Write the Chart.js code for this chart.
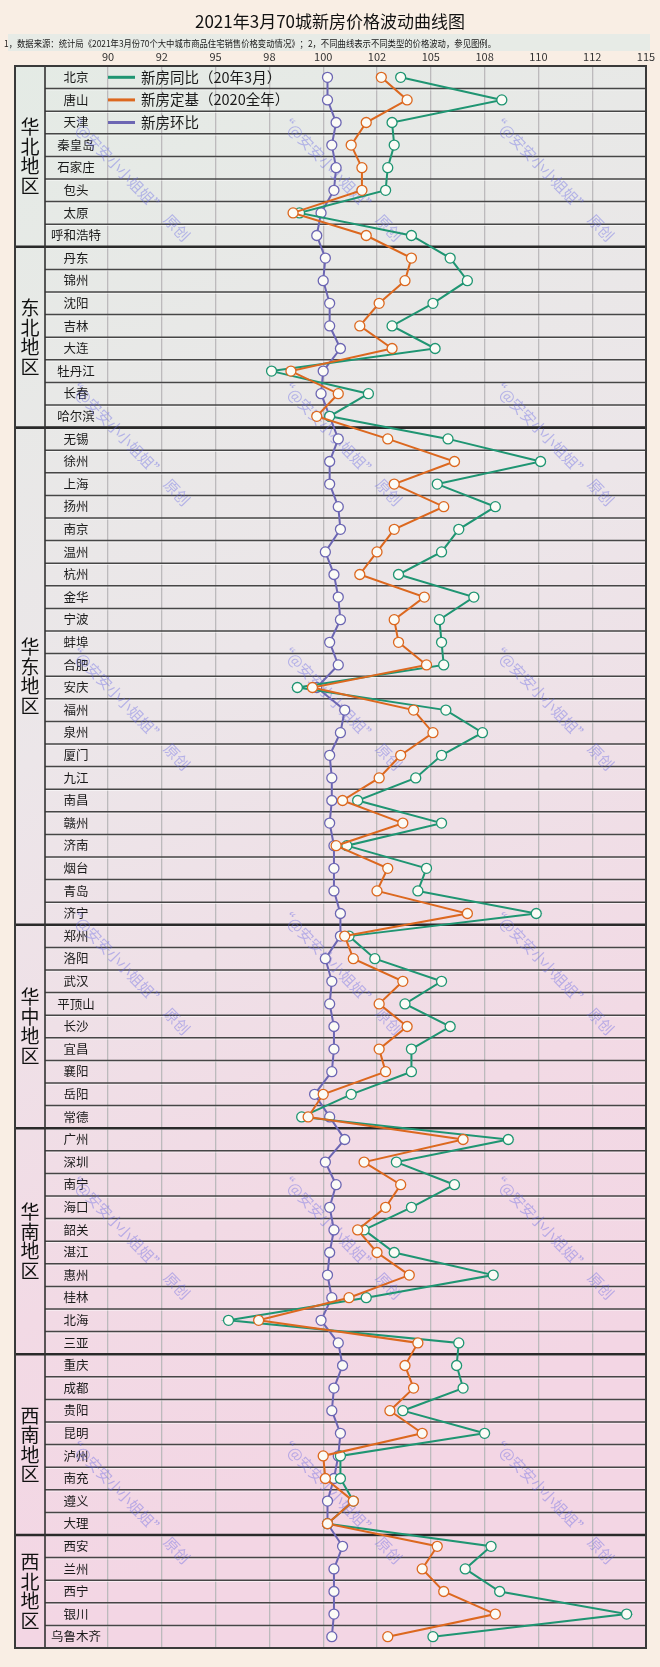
<!DOCTYPE html>
<html lang="zh-CN">
<head>
<meta charset="utf-8">
<title>2021年3月70城新房价格波动曲线图</title>
<script src="https://cdn.jsdelivr.net/npm/chart.js@4.4.1/dist/chart.umd.min.js"></script>
<style>
  html, body { margin: 0; padding: 0; background: #f9eee4; }
  #wrap { width: 660px; height: 1667px; }
</style>
</head>
<body>
<div id="wrap"><canvas id="chart" width="660" height="1667"></canvas></div>
<script>
// 2021年3月70城新房价格波动 - vertical line chart

const cities = [
  '北京', '唐山', '天津', '秦皇岛', '石家庄', '包头', '太原', '呼和浩特',
  '丹东', '锦州', '沈阳', '吉林', '大连', '牡丹江', '长春', '哈尔滨',
  '无锡', '徐州', '上海', '扬州', '南京', '温州', '杭州', '金华', '宁波', '蚌埠', '合肥',
  '安庆', '福州', '泉州', '厦门', '九江', '南昌', '赣州', '济南', '烟台', '青岛', '济宁',
  '郑州', '洛阳', '武汉', '平顶山', '长沙', '宜昌', '襄阳', '岳阳', '常德',
  '广州', '深圳', '南宁', '海口', '韶关', '湛江', '惠州', '桂林', '北海', '三亚',
  '重庆', '成都', '贵阳', '昆明', '泸州', '南充', '遵义', '大理',
  '西安', '兰州', '西宁', '银川', '乌鲁木齐'
];

const regions = ['华北地区', '东北地区', '华东地区', '华中地区', '华南地区', '西南地区', '西北地区'];
const regionSizes = [8, 8, 22, 9, 10, 8, 5];

// 新房同比(20年3月)
const yoyValues = [
  103.6, 108.3, 103.2, 103.3, 103.0, 102.9, 98.9, 104.1,
  105.9, 106.7, 105.1, 103.2, 105.2, 97.6, 102.1, 100.3,
  105.8, 110.1, 105.3, 108.0, 106.3, 105.5, 103.5, 107.0, 105.4, 105.5, 105.6,
  98.8, 105.7, 107.4, 105.5, 104.3, 101.6, 105.5, 101.1, 104.8, 104.4, 109.9,
  101.2, 102.4, 105.5, 103.8, 105.9, 104.1, 104.1, 101.3, 99.0,
  108.6, 103.4, 106.1, 104.1, 101.9, 103.3, 107.9, 102.0, 95.6, 106.3,
  106.2, 106.5, 103.7, 107.5, 100.8, 100.8, 101.4, 100.2,
  107.8, 106.6, 108.2, 114.1, 105.1
];

// 新房定基(2020全年)
const baseValues = [
  102.7, 103.9, 102.0, 101.3, 101.8, 101.8, 98.6, 102.0,
  104.1, 103.8, 102.6, 101.7, 103.2, 98.5, 100.7, 99.7,
  103.0, 106.1, 103.3, 105.6, 103.3, 102.5, 101.7, 104.7, 103.3, 103.5, 104.8,
  99.5, 104.2, 105.1, 103.6, 102.6, 100.9, 103.7, 100.6, 103.0, 102.5, 106.7,
  101.0, 101.4, 103.7, 102.6, 103.9, 102.6, 102.9, 100.0, 99.3,
  106.5, 101.9, 103.6, 102.9, 101.6, 102.5, 104.0, 101.2, 97.0, 104.4,
  103.8, 104.2, 103.1, 104.6, 100.0, 100.1, 101.4, 100.2,
  105.3, 104.6, 105.6, 108.0, 103.0
];

// 新房环比
const momValues = [
  100.2, 100.2, 100.6, 100.4, 100.6, 100.5, 99.9, 99.7,
  100.1, 100.0, 100.3, 100.3, 100.8, 100.0, 99.9, 100.3,
  100.7, 100.3, 100.3, 100.7, 100.8, 100.1, 100.5, 100.7, 100.8, 100.3, 100.7,
  99.7, 101.0, 100.8, 100.3, 100.4, 100.4, 100.3, 100.5, 100.5, 100.5, 100.8,
  100.8, 100.1, 100.4, 100.3, 100.5, 100.5, 100.4, 99.6, 100.3,
  101.0, 100.1, 100.6, 100.3, 100.5, 100.3, 100.2, 100.4, 99.9, 100.7,
  100.9, 100.5, 100.4, 100.8, 100.7, 100.5, 100.2, 100.2,
  100.9, 100.5, 100.5, 100.5, 100.4
];

// axis runs 90..115 in steps of 2.5, labels as printed on the original
const tickLabels = ['90', '92', '95', '98', '100', '102', '105', '108', '110', '112', '115'];

const TITLE = '2021年3月70城新房价格波动曲线图';
const NOTE = '1，数据来源：统计局《2021年3月份70个大中城市商品住宅销售价格变动情况》；2，不同曲线表示不同类型的价格波动，参见图例。';
const WATERMARK = '“@安安小小姐姐”  原创';

const FONT = '"Noto Sans CJK SC", "Noto Sans", sans-serif';
const GREEN = '#1f9572';
const ORANGE = '#dc681f';
const PURPLE = '#6c66b3';

const FRAME_LEFT = 15;   // outer border of the table
const REGION_RIGHT = 45; // border between region and city columns

Chart.defaults.font.family = FONT;

// Background, title, note band, table shading
const backdropPlugin = {
  id: 'backdrop',
  beforeDraw(chart) {
    const ctx = chart.ctx;
    const { top, bottom, right } = chart.chartArea;
    ctx.save();
    ctx.fillStyle = '#f9eee4';
    ctx.fillRect(0, 0, chart.width, chart.height);

    ctx.fillStyle = '#111';
    ctx.font = '17px ' + FONT;
    ctx.textAlign = 'center';
    ctx.textBaseline = 'middle';
    ctx.fillText(TITLE, chart.width / 2, 22);

    ctx.fillStyle = '#e7ebe6';
    ctx.fillRect(8, 34, 642, 17);
    ctx.fillStyle = '#1a1a1a';
    ctx.font = '9.5px ' + FONT;
    ctx.textAlign = 'left';
    ctx.fillText(NOTE, 4, 43, 492);

    const g = ctx.createLinearGradient(0, top, right, bottom * 0.8);
    g.addColorStop(0, '#e4ebe5');
    g.addColorStop(0.45, '#ece6e9');
    g.addColorStop(0.8, '#f2dae5');
    g.addColorStop(1, '#f3d6e4');
    ctx.fillStyle = g;
    ctx.fillRect(FRAME_LEFT, top, right - FRAME_LEFT, bottom - top);
    ctx.restore();
  },

  beforeDatasetsDraw(chart) {
    const ctx = chart.ctx;
    const y = chart.scales.y;
    const { top, bottom, left, right } = chart.chartArea;
    const step = y.getPixelForValue(1) - y.getPixelForValue(0);
    const edge = i => y.getPixelForValue(0) - step / 2 + i * step;

    ctx.save();
    // row separators
    for (let i = 1; i < cities.length; i++) {
      const yy = edge(i);
      ctx.strokeStyle = 'rgba(255,255,255,0.55)';
      ctx.lineWidth = 1;
      ctx.beginPath();
      ctx.moveTo(REGION_RIGHT, yy + 1.3);
      ctx.lineTo(right, yy + 1.3);
      ctx.stroke();
      ctx.strokeStyle = '#464646';
      ctx.lineWidth = 1.5;
      ctx.beginPath();
      ctx.moveTo(REGION_RIGHT, yy);
      ctx.lineTo(right, yy);
      ctx.stroke();
    }

    // region separators and labels
    let start = 0;
    regions.forEach((name, r) => {
      const end = start + regionSizes[r];
      if (r > 0) {
        ctx.strokeStyle = '#2a2a2a';
        ctx.lineWidth = 2.6;
        ctx.beginPath();
        ctx.moveTo(FRAME_LEFT, edge(start));
        ctx.lineTo(right, edge(start));
        ctx.stroke();
      }
      const mid = (edge(start) + edge(end)) / 2;
      const chars = Array.from(name);
      const lh = 19.5;
      ctx.fillStyle = '#111';
      ctx.font = '19px ' + FONT;
      ctx.textAlign = 'center';
      ctx.textBaseline = 'middle';
      chars.forEach((c, k) => {
        ctx.fillText(c, (FRAME_LEFT + REGION_RIGHT) / 2, mid + (k - (chars.length - 1) / 2) * lh);
      });
      start = end;
    });

    // column border + frame
    ctx.strokeStyle = '#333';
    ctx.lineWidth = 1.6;
    ctx.beginPath();
    ctx.moveTo(REGION_RIGHT, top);
    ctx.lineTo(REGION_RIGHT, bottom);
    ctx.stroke();
    ctx.lineWidth = 2;
    ctx.strokeStyle = '#3a3a3a';
    ctx.strokeRect(FRAME_LEFT, top, right - FRAME_LEFT, bottom - top);

    // watermark
    ctx.fillStyle = 'rgba(105,105,228,0.42)';
    ctx.font = '15px ' + FONT;
    ctx.textAlign = 'center';
    ctx.textBaseline = 'middle';
    [128, 340, 552].forEach(cx => {
      for (let k = 0; k < 6; k++) {
        ctx.save();
        ctx.translate(cx, 177 + k * 264.5);
        ctx.rotate(46 * Math.PI / 180);
        ctx.fillText(WATERMARK, 0, 0);
        ctx.restore();
      }
    });

    // legend in the first three rows
    chart.data.datasets.forEach((ds, i) => {
      const yy = y.getPixelForValue(i);
      ctx.strokeStyle = ds.borderColor;
      ctx.lineWidth = 3;
      ctx.beginPath();
      ctx.moveTo(left, yy);
      ctx.lineTo(left + 27, yy);
      ctx.stroke();
      ctx.fillStyle = '#1a1a1a';
      ctx.font = '14.5px ' + FONT;
      ctx.textAlign = 'left';
      ctx.fillText(ds.label, left + 33, yy);
    });
    ctx.restore();
  }
};

const seriesStyle = color => ({
  borderColor: color,
  backgroundColor: '#fbfbf6',
  pointBackgroundColor: '#fbfbf6',
  pointBorderColor: color,
  pointRadius: 5,
  pointBorderWidth: 1.3,
  borderWidth: 2,
  tension: 0
});

new Chart(document.getElementById('chart'), {
  type: 'line',
  data: {
    labels: cities,
    datasets: [
      Object.assign({ label: '新房同比（20年3月）', data: yoyValues, order: 2 }, seriesStyle(GREEN)),
      Object.assign({ label: '新房定基（2020全年）', data: baseValues, order: 1 }, seriesStyle(ORANGE)),
      Object.assign({ label: '新房环比', data: momValues, order: 3 }, seriesStyle(PURPLE))
    ]
  },
  options: {
    indexAxis: 'y',
    responsive: false,
    animation: false,
    devicePixelRatio: 1,
    layout: { padding: { top: 48, left: 45, right: 14, bottom: 19 } },
    scales: {
      x: {
        type: 'linear',
        position: 'top',
        min: 90,
        max: 115,
        grid: { color: '#bcbabc', lineWidth: 1.3, drawTicks: false },
        border: { display: false },
        ticks: {
          stepSize: 2.5,
          padding: 3,
          color: '#333',
          font: { size: 11 },
          callback: (value, index) => tickLabels[index]
        },
        afterFit: scale => { scale.height = 18; }
      },
      y: {
        type: 'category',
        offset: true,
        grid: { display: false, drawTicks: false },
        border: { display: false },
        ticks: {
          autoSkip: false,
          crossAlign: 'center',
          padding: 7,
          color: '#1a1a1a',
          font: { size: 12.5 }
        },
        afterFit: scale => { scale.width = 63; }
      }
    },
    plugins: {
      legend: { display: false },
      tooltip: { enabled: false }
    }
  },
  plugins: [backdropPlugin]
});
</script>
</body>
</html>
